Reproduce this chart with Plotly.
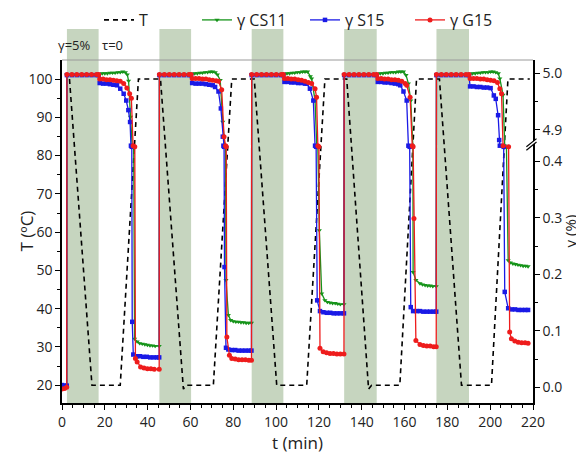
import plotly.graph_objects as go

# ---------------- data ----------------
shade_start = [2.3, 45.5, 88.6, 131.8, 174.9]
shade_end = [17.1, 60.3, 103.4, 147.0, 190.1]

t_T = [3.5, 14.0, 27.2, 35.7, 46.0, 56.7, 57.9, 70.7, 79.3, 89.8, 100.3, 114.3, 122.8,
       133.0, 143.2, 144.6, 157.8, 165.6, 176.3, 186.6, 200.6, 208.3, 218.5]
T_vals = [100, 20, 20, 100, 100, 19, 20, 20, 100, 100, 20, 20, 100,
          100, 19, 20, 20, 100, 100, 20, 20, 100, 100]

t_cs11 = [0, 1.2, 2.2, 2.3, 4.6, 6.9, 9.2, 11.5, 13.8, 16.1, 17.1, 17.6, 18.8, 20.0, 21.2, 22.4, 23.6, 24.8, 26.0, 27.2, 28.4, 29.6, 30.5, 31.1, 32.0, 32.8, 33.5, 33.9, 35.1, 36.3, 37.5, 38.7, 39.9, 41.1, 42.3, 43.5, 45.4,
          45.5, 47.8, 50.1, 52.4, 54.7, 57.0, 59.3, 60.3, 60.8, 62.0, 63.2, 64.4, 65.6, 66.8, 68.0, 69.2, 70.4, 71.6, 72.6, 73.9, 75.1, 76.0, 76.4, 76.6, 77.7, 78.8, 80.0, 81.2, 82.4, 83.6, 84.8, 86.0, 87.2, 88.5,
          88.6, 90.9, 93.2, 95.5, 97.8, 100.1, 102.4, 103.4, 103.9, 105.1, 106.3, 107.5, 108.7, 109.9, 111.1, 112.3, 113.5, 114.7, 116.0, 116.6, 118.2, 119.0, 119.5, 120.2, 121.3, 122.8, 124.0, 125.2, 126.4, 127.6, 128.8, 130.0, 131.7,
          131.8, 134.1, 136.4, 138.7, 141.0, 143.3, 145.6, 147.0, 147.5, 148.7, 149.9, 151.1, 152.3, 153.5, 154.7, 155.9, 157.1, 158.3, 159.5, 160.7, 161.8, 162.9, 163.6, 163.9, 164.0, 165.3, 167.2, 168.4, 169.6, 170.8, 172.0, 173.2, 174.8,
          174.9, 177.2, 179.5, 181.8, 184.1, 186.4, 188.7, 190.1, 190.6, 191.8, 193.0, 194.2, 195.4, 196.6, 197.8, 199.0, 200.2, 201.4, 202.6, 203.8, 204.5, 206.0, 206.8, 207.6, 208.4, 209.4, 210.6, 211.8, 213.0, 214.2, 215.4, 216.6, 217.7]
g_cs11 = [0.0, 0.0, 0.0, 4.998, 4.998, 4.998, 4.998, 4.998, 4.998, 4.998, 4.998, 4.999, 5.000, 5.000, 5.000, 5.001, 5.001, 5.001, 5.002, 5.002, 5.003, 5.002, 4.998, 4.987, 4.923, 4.872, 0.426, 0.086, 0.081, 0.078, 0.077, 0.076, 0.075, 0.074, 0.074, 0.073, 0.073,
          4.998, 4.998, 4.998, 4.998, 4.998, 4.998, 4.998, 4.998, 4.999, 5.000, 5.000, 5.001, 5.001, 5.002, 5.002, 5.003, 5.003, 5.002, 4.998, 4.988, 4.914, 4.872, 0.426, 0.190, 0.128, 0.119, 0.117, 0.116, 0.116, 0.115, 0.115, 0.114, 0.114, 0.114,
          4.998, 4.998, 4.998, 4.998, 4.998, 4.998, 4.998, 4.998, 4.999, 5.000, 5.000, 5.001, 5.001, 5.002, 5.002, 5.003, 5.003, 5.003, 4.995, 4.991, 4.952, 4.872, 0.426, 0.278, 0.166, 0.154, 0.151, 0.150, 0.149, 0.149, 0.148, 0.147, 0.147,
          4.998, 4.998, 4.998, 4.998, 4.998, 4.998, 4.998, 4.998, 4.999, 5.000, 5.000, 5.001, 5.001, 5.002, 5.002, 5.002, 5.003, 5.003, 5.003, 4.997, 4.982, 4.952, 4.872, 0.426, 0.204, 0.190, 0.184, 0.182, 0.181, 0.180, 0.180, 0.179, 0.179,
          4.998, 4.998, 4.998, 4.998, 4.998, 4.998, 4.998, 4.998, 4.999, 5.000, 5.000, 5.001, 5.001, 5.002, 5.002, 5.002, 5.003, 5.003, 5.002, 5.000, 4.991, 4.962, 4.872, 0.426, 0.225, 0.221, 0.219, 0.218, 0.217, 0.216, 0.215, 0.215, 0.214]

t_s15 = [0, 1.2, 2.2, 2.3, 4.6, 6.9, 9.2, 11.5, 13.8, 16.1, 17.1, 17.6, 19.2, 20.8, 22.4, 24.0, 25.7, 27.2, 28.8, 30.0, 31.0, 31.8, 32.2, 32.6, 32.8, 33.3, 34.8, 36.4, 38.0, 39.6, 41.2, 42.8, 44.4, 45.4,
         45.5, 47.8, 50.1, 52.4, 54.7, 57.0, 59.3, 60.3, 60.8, 62.4, 64.0, 65.6, 67.2, 68.8, 70.4, 71.5, 73.1, 74.2, 75.1, 75.4, 75.7, 75.9, 76.6, 77.7, 79.3, 80.9, 82.5, 84.1, 85.7, 87.3, 88.5,
         88.6, 90.9, 93.2, 95.5, 97.8, 100.1, 102.4, 103.4, 103.9, 105.5, 107.1, 108.7, 110.3, 111.9, 113.5, 114.3, 115.8, 117.4, 118.2, 118.7, 119.2, 120.5, 122.1, 123.7, 125.3, 126.9, 128.5, 130.1, 131.7,
         131.8, 134.1, 136.4, 138.7, 141.0, 143.3, 145.6, 147.0, 147.5, 149.1, 150.7, 152.3, 153.9, 155.5, 157.1, 158.0, 159.5, 161.0, 161.8, 162.4, 162.9, 164.0, 165.6, 167.2, 168.8, 170.4, 172.0, 173.6, 174.8,
         174.9, 177.2, 179.5, 181.8, 184.1, 186.4, 188.7, 190.1, 190.6, 192.2, 193.8, 195.4, 197.0, 198.6, 200.2, 201.7, 202.6, 203.7, 204.2, 204.5, 206.3, 206.8, 208.4, 210.0, 211.6, 213.2, 214.8, 216.4, 217.7]
g_s15 = [0.004, 0.003, 0.003, 4.997, 4.997, 4.997, 4.997, 4.997, 4.997, 4.997, 4.997, 4.983, 4.982, 4.982, 4.981, 4.980, 4.979, 4.973, 4.964, 4.952, 4.935, 4.914, 4.872, 0.426, 0.116, 0.058, 0.055, 0.055, 0.054, 0.054, 0.053, 0.053, 0.053, 0.053,
         4.997, 4.997, 4.997, 4.997, 4.997, 4.997, 4.997, 4.997, 4.983, 4.982, 4.982, 4.982, 4.981, 4.980, 4.979, 4.976, 4.968, 4.938, 4.888, 4.872, 0.426, 0.213, 0.070, 0.067, 0.066, 0.066, 0.065, 0.065, 0.065, 0.065, 0.065,
         4.997, 4.997, 4.997, 4.997, 4.997, 4.997, 4.997, 4.997, 4.985, 4.985, 4.984, 4.984, 4.983, 4.983, 4.982, 4.982, 4.973, 4.952, 4.872, 0.426, 0.154, 0.135, 0.133, 0.132, 0.132, 0.131, 0.131, 0.131, 0.131,
         4.997, 4.997, 4.997, 4.997, 4.997, 4.997, 4.997, 4.997, 4.985, 4.985, 4.984, 4.984, 4.983, 4.982, 4.981, 4.979, 4.968, 4.952, 4.872, 0.426, 0.142, 0.135, 0.135, 0.135, 0.134, 0.134, 0.134, 0.134, 0.134,
         4.997, 4.997, 4.997, 4.997, 4.997, 4.997, 4.997, 4.997, 4.977, 4.977, 4.976, 4.976, 4.975, 4.975, 4.974, 4.961, 4.955, 4.926, 4.882, 4.872, 0.426, 0.169, 0.140, 0.138, 0.138, 0.137, 0.137, 0.137, 0.137]

t_g15 = [0, 1.2, 2.2, 2.3, 4.6, 6.9, 9.2, 11.5, 13.8, 16.1, 17.1, 17.6, 19.2, 20.8, 22.4, 24.0, 25.6, 27.2, 28.8, 30.3, 31.6, 32.4, 33.2, 34.0, 34.3, 35.1, 36.7, 38.3, 39.9, 41.5, 43.1, 45.4,
         45.5, 47.8, 50.1, 52.4, 54.7, 57.0, 59.3, 60.3, 60.8, 62.4, 64.0, 65.6, 67.2, 68.8, 70.4, 72.0, 73.1, 74.6, 75.7, 76.4, 76.7, 77.0, 78.2, 79.3, 80.9, 82.5, 84.1, 85.7, 87.3, 88.5,
         88.6, 90.9, 93.2, 95.5, 97.8, 100.1, 102.4, 103.4, 103.9, 105.5, 107.1, 108.7, 110.3, 111.9, 113.5, 115.1, 116.6, 118.2, 118.9, 119.5, 120.0, 120.5, 122.0, 123.6, 125.2, 126.8, 128.4, 130.0, 131.7,
         131.8, 134.1, 136.4, 138.7, 141.0, 143.3, 145.6, 147.0, 147.5, 149.1, 150.7, 152.3, 153.9, 155.5, 157.1, 158.7, 160.3, 161.0, 162.6, 163.6, 164.0, 164.4, 165.3, 167.2, 168.8, 170.4, 172.0, 173.6, 174.8,
         174.9, 177.2, 179.5, 181.8, 184.1, 186.4, 188.7, 190.1, 190.6, 192.2, 193.8, 195.4, 197.0, 198.6, 200.2, 201.8, 203.4, 204.5, 205.3, 206.0, 208.6, 209.1, 209.9, 211.5, 213.1, 214.7, 216.3, 217.7]
g_g15 = [-0.003, -0.002, 0.0, 4.998, 4.998, 4.998, 4.998, 4.998, 4.998, 4.998, 4.998, 4.990, 4.990, 4.989, 4.989, 4.988, 4.987, 4.986, 4.982, 4.974, 4.964, 4.956, 4.872, 0.426, 0.051, 0.045, 0.036, 0.034, 0.033, 0.033, 0.032, 0.032,
         4.998, 4.998, 4.998, 4.998, 4.998, 4.998, 4.998, 4.998, 4.991, 4.991, 4.991, 4.990, 4.990, 4.989, 4.988, 4.987, 4.986, 4.971, 4.888, 4.872, 0.426, 0.089, 0.057, 0.051, 0.050, 0.049, 0.049, 0.049, 0.048, 0.048,
         4.998, 4.998, 4.998, 4.998, 4.998, 4.998, 4.998, 4.998, 4.991, 4.991, 4.990, 4.990, 4.989, 4.988, 4.986, 4.984, 4.982, 4.973, 4.958, 4.872, 0.426, 0.069, 0.063, 0.061, 0.060, 0.060, 0.059, 0.059, 0.059,
         4.998, 4.998, 4.998, 4.998, 4.998, 4.998, 4.998, 4.998, 4.991, 4.991, 4.990, 4.990, 4.989, 4.989, 4.988, 4.986, 4.982, 4.979, 4.958, 4.872, 0.426, 0.299, 0.083, 0.076, 0.074, 0.073, 0.073, 0.072, 0.072,
         4.998, 4.998, 4.998, 4.998, 4.998, 4.998, 4.998, 4.998, 4.991, 4.991, 4.991, 4.990, 4.990, 4.989, 4.988, 4.987, 4.984, 4.973, 4.964, 4.872, 0.426, 0.098, 0.086, 0.082, 0.080, 0.079, 0.079, 0.078]

x_ticks = [0, 20, 40, 60, 80, 100, 120, 140, 160, 180, 200, 220]
T_ticks = [20, 30, 40, 50, 60, 70, 80, 90, 100]
g_ticks = [0.0, 0.1, 0.2, 0.3, 0.4, 4.9, 5.0]
g_minor = [0.05, 0.15, 0.25, 0.35, 4.95]

assert len(t_cs11) == len(g_cs11) and len(t_s15) == len(g_s15) and len(t_g15) == len(g_g15)

# ---------------- broken gamma axis ----------------
BREAK_LOW = 0.427    # top of the lower segment
BREAK_HIGH = 4.871   # bottom of the upper segment
OFFSET = BREAK_HIGH - BREAK_LOW


def brk(g):
    if g >= BREAK_HIGH:
        return g - OFFSET
    return min(g, BREAK_LOW)


FONT = "Open Sans"
fig = go.Figure()

fig.add_trace(go.Scatter(x=t_T, y=T_vals, mode="lines", name="T",
                         line=dict(color="black", width=1.6, dash="5px,4px"),
                         legend="legend"))
series = [
    ("γ CS11", t_cs11, g_cs11, "#16941a", "triangle-down", 4.5, "legend2"),
    ("γ S15", t_s15, g_s15, "#1a1ae6", "square", 4.5, "legend3"),
    ("γ G15", t_g15, g_g15, "#ee1c1c", "circle", 5, "legend4"),
]
for name, t, g, col, sym, sz, lg in series:
    fig.add_trace(go.Scatter(x=t, y=[brk(v) for v in g], yaxis="y2", mode="lines+markers",
                             name=name, legend=lg,
                             line=dict(color=col, width=1.3),
                             marker=dict(symbol=sym, size=sz, color=col, line=dict(width=0))))

# figure is drawn inside the page's default 8px body margin
W, H = 576, 449
L, R, T, B = 54, 51, 52, 54
plot_w = W - L - R
plot_h = H - T - B

# shaded strain periods
shapes = []
for s, e in zip(shade_start, shade_end):
    shapes.append(dict(type="rect", xref="x", yref="paper", x0=s, x1=e, y0=0, y1=1 + 31 / plot_h,
                       fillcolor="rgb(198,213,191)", line=dict(width=0), layer="below"))
# thin grey top frame
shapes.append(dict(type="line", xref="paper", yref="paper", x0=0, x1=1, y0=1, y1=1,
                   line=dict(color="#9a9a9a", width=1), layer="above"))
# axis-break marks on the right axis
shapes.append(dict(type="path", xref="paper", yref="y2",
                   path="M 0.9860,0.4200 L 1.0075,0.4345 L 1.0075,0.4405 L 0.9860,0.4260 Z",
                   fillcolor="white", line=dict(width=0), layer="above"))
for d in (0.0, 0.0060):
    shapes.append(dict(type="line", xref="paper", yref="y2",
                       x0=0.9860, x1=1.0075, y0=0.4200 + d, y1=0.4345 + d,
                       line=dict(color="black", width=1.2), layer="above"))

tickfont = dict(family=FONT, size=14, color="#222")
axis_common = dict(showline=True, linecolor="black", linewidth=1.6, ticks="outside",
                   ticklen=5, tickwidth=1.3, tickcolor="black", showgrid=False,
                   zeroline=False, tickfont=tickfont, automargin=False)

title_font = dict(family=FONT, size=17, color="#222")
fig.update_layout(
    template="none",
    width=W, height=H,
    margin=dict(l=L, r=R, t=T, b=B, autoexpand=False),
    paper_bgcolor="white", plot_bgcolor="white",
    font=dict(family=FONT, color="#222"),
    showlegend=True,
    shapes=shapes,
    xaxis=dict(range=[0, 220], tickvals=x_ticks,
               minor=dict(dtick=5, tick0=0, ticks="outside", ticklen=3, tickwidth=1.1, tickcolor="black"),
               title=dict(text="t (min)", font=title_font, standoff=4),
               **axis_common),
    yaxis=dict(range=[15.37, 104.97], tickvals=T_ticks,
               minor=dict(dtick=5, tick0=0, ticks="outside", ticklen=3, tickwidth=1.1, tickcolor="black"),
               **axis_common),
    yaxis2=dict(overlaying="y", side="right", range=[-0.0278, 0.5798],
                tickvals=[brk(v) for v in g_ticks],
                ticktext=["0.0", "0.1", "0.2", "0.3", "0.4", "4.9", "5.0"],
                minor=dict(tickvals=[brk(v) for v in g_minor], ticks="outside", ticklen=3,
                           tickwidth=1.1, tickcolor="black"),
                **axis_common),
    annotations=[
        dict(text="T (ºC)", xref="paper", yref="paper", x=(18 - L) / plot_w, y=0.5,
             xanchor="center", yanchor="middle", textangle=-90, showarrow=False, font=title_font),
        dict(text="γ (%)", xref="paper", yref="paper", x=(561 - L) / plot_w, y=0.5,
             xanchor="center", yanchor="middle", textangle=-90, showarrow=False,
             font=dict(family=FONT, size=15, color="#222")),
        dict(text="γ=5%", xref="paper", yref="paper", x=(74.5 - 62) / 471, y=1 + 15 / plot_h,
             xanchor="center", yanchor="middle", showarrow=False,
             font=dict(family=FONT, size=13, color="#222")),
        dict(text="τ=0", xref="paper", yref="paper", x=(112.5 - 62) / 471, y=1 + 15 / plot_h,
             xanchor="center", yanchor="middle", showarrow=False,
             font=dict(family=FONT, size=13, color="#222")),
    ],
)

leg_font = dict(family=FONT, size=16, color="#222")
for key, px in (("legend", 99), ("legend2", 197), ("legend3", 305), ("legend4", 410)):
    fig.update_layout({key: dict(x=(px - 62) / 471, y=1 + 40 / plot_h, xanchor="left", yanchor="middle",
                                 orientation="h", font=leg_font, bgcolor="rgba(0,0,0,0)",
                                 borderwidth=0, visible=True)})

fig.write_html("out.html")
